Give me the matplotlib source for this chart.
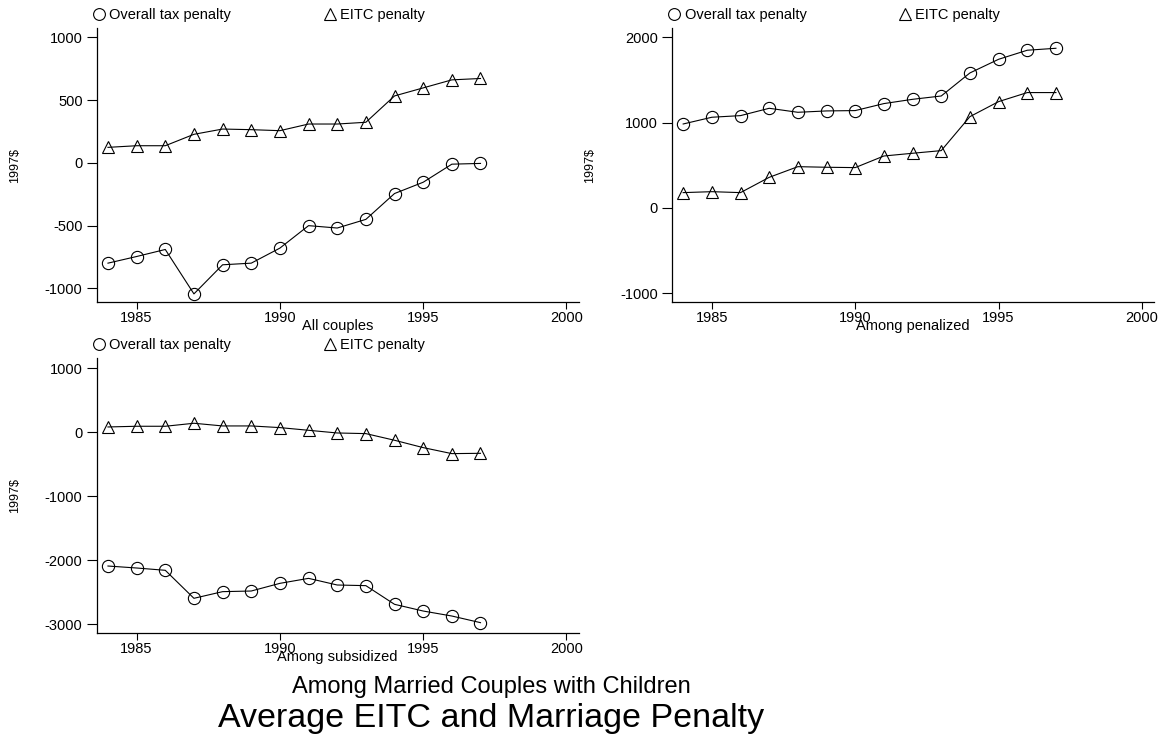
import matplotlib
matplotlib.use("Agg")
import matplotlib.pyplot as plt
from matplotlib.lines import Line2D

plt.rcParams['font.family'] = ['Liberation Sans', 'DejaVu Sans']
plt.rcParams['axes.unicode_minus'] = False

years = list(range(1984, 1998))

# All couples
tax_all = [-800, -747, -691, -1045, -813, -800, -680, -501, -520, -451, -245, -155, -11, -5]
eitc_all = [123, 136, 136, 227, 269, 264, 256, 309, 309, 323, 533, 597, 661, 672]

# Among penalized
tax_pen = [984, 1063, 1082, 1168, 1121, 1137, 1141, 1223, 1273, 1312, 1582, 1742, 1848, 1871]
eitc_pen = [180, 191, 180, 359, 484, 477, 473, 609, 641, 672, 1070, 1246, 1352, 1352]

# Among subsidized
tax_sub = [-2093, -2124, -2160, -2598, -2494, -2484, -2364, -2286, -2390, -2400, -2692, -2797, -2875, -2979]
eitc_sub = [82, 93, 93, 140, 98, 98, 72, 30, -12, -22, -126, -241, -335, -330]

series_labels = ['Overall tax penalty', 'EITC penalty']
x_ticks = [1985, 1990, 1995, 2000]

W, H = 1162, 740
fig = plt.figure(figsize=(W / 100, H / 100), dpi=100)


def px_axes(left, top, right, bottom):
    return fig.add_axes([left / W, 1 - bottom / H, (right - left) / W, (bottom - top) / H])


def draw_panel(ax, tax, eitc, ylim, yticks, subtitle):
    ax.plot(years, tax, color='black', lw=0.8, marker='o', ms=8.8, mfc='none', mec='black', mew=0.8)
    ax.plot(years, eitc, color='black', lw=0.8, marker='^', ms=9.3, mfc='none', mec='black', mew=0.8)
    ax.set_xlim(1983.6, 2000.42)
    ax.set_ylim(*ylim)
    ax.set_xticks(x_ticks)
    ax.set_yticks(yticks)
    for s in ['top', 'right']:
        ax.spines[s].set_visible(False)
    for s in ['left', 'bottom']:
        ax.spines[s].set_linewidth(0.9)
    ax.tick_params(direction='out', width=0.8, labelsize=10.5)
    ax.tick_params(axis='x', length=5, pad=1.5)
    ax.tick_params(axis='y', length=7, pad=3)
    ax.set_ylabel('1997$', fontsize=9)
    ax.yaxis.set_label_coords(-0.157, 0.5)
    ax.text(0.5, -0.088, subtitle, transform=ax.transAxes, ha='center', va='center', fontsize=10.5)
    handles = [Line2D([], [], ls='none', marker='o', ms=8.5, mfc='none', mec='black', mew=0.8),
               Line2D([], [], ls='none', marker='^', ms=9, mfc='none', mec='black', mew=0.8)]
    ax.legend(handles, series_labels, ncol=2, loc='center left', bbox_to_anchor=(-0.005, 1.0485),
              frameon=False, fontsize=10.5, handlelength=0.7, handletextpad=0.35,
              columnspacing=6.4, borderpad=0, borderaxespad=0)


ax1 = px_axes(96.5, 28.3, 578.5, 302.3)
draw_panel(ax1, tax_all, eitc_all, (-1112, 1072), [-1000, -500, 0, 500, 1000], 'All couples')

ax2 = px_axes(671.7, 28.3, 1154, 302.3)
draw_panel(ax2, tax_pen, eitc_pen, (-1105, 2105), [-1000, 0, 1000, 2000], 'Among penalized')

ax3 = px_axes(96.5, 358.3, 578.5, 632.7)
draw_panel(ax3, tax_sub, eitc_sub, (-3136, 1156), [-3000, -2000, -1000, 0, 1000], 'Among subsidized')

fig.text(491 / W, 1 - 693 / H, 'Among Married Couples with Children', ha='center', va='baseline', fontsize=17)
fig.text(491 / W, 1 - 727 / H, 'Average EITC and Marriage Penalty', ha='center', va='baseline', fontsize=24.5)

fig.savefig('out.png', dpi=100, facecolor='white')
